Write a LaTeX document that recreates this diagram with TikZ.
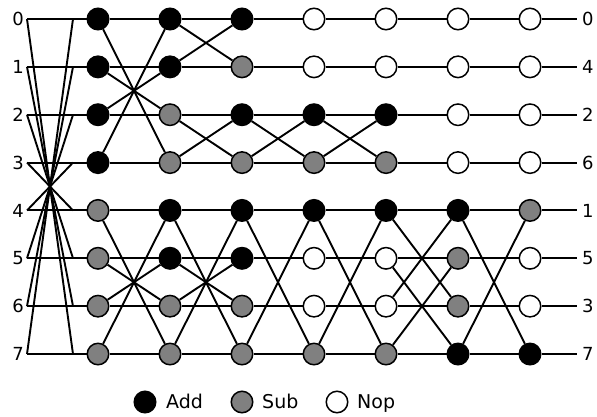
\documentclass[tikz,border=0pt]{standalone}
\usepackage{fontspec}
\setmainfont{DejaVu Sans}
\usetikzlibrary{backgrounds}
\definecolor{opgray}{RGB}{128,128,128}
\begin{document}
\begin{tikzpicture}[x=1pt,y=-1pt,
  wire/.style={line width=1.9pt},
  op/.style={circle,draw,line width=1.5pt,minimum size=21.5pt,inner sep=0pt},
  add/.style={op,fill=black},
  sub/.style={op,fill=opgray},
  nop/.style={op,fill=white},
  idx/.style={font=\fontsize{18}{18}\selectfont,inner sep=0pt},
  key/.style={font=\fontsize{19}{19}\selectfont,inner sep=0pt,anchor=base west}]
\useasboundingbox (0,0) rectangle (597,416);

% row ends and the points where the input reversal meets the rows
\foreach \r in {0,...,7} {
  \coordinate (L-\r) at (27,{19+47.86*\r});
  \coordinate (P-\r) at (73,{19+47.86*\r});
  \coordinate (R-\r) at (577,{19+47.86*\r});
  \node[idx,anchor=east] (in-\r) at (24,{19+47.86*\r}) {\r};
}
\foreach \v [count=\r from 0] in {0,4,2,6,1,5,3,7}
  \node[idx,anchor=west] (out-\r) at (582,{19+47.86*\r}) {\v};

% operation nodes, column by column
\foreach \c/\x/\types in {
  1/98/{add,add,add,add,sub,sub,sub,sub},
  2/170/{add,add,sub,sub,add,add,sub,sub},
  3/242/{add,sub,add,sub,add,add,sub,sub},
  4/314/{nop,nop,add,sub,add,nop,nop,sub},
  5/386/{nop,nop,add,sub,add,nop,nop,sub},
  6/458/{nop,nop,nop,nop,add,sub,sub,add},
  7/530/{nop,nop,nop,nop,sub,nop,nop,add}} {
  \foreach \t [count=\r from 0] in \types
    \node[\t] (n-\c-\r) at (\x,{19+47.86*\r}) {};
}

\begin{scope}[on background layer]
  % horizontal wires
  \foreach \r in {0,...,7}
    \draw[wire] (L-\r) -- (P-\r) -- (n-1-\r) -- (n-2-\r) -- (n-3-\r)
      -- (n-4-\r) -- (n-5-\r) -- (n-6-\r) -- (n-7-\r) -- (R-\r);
  % input order reversal
  \foreach \r in {0,...,7} {
    \pgfmathtruncatemacro\s{7-\r}
    \draw[wire] (L-\r) -- (P-\s);
  }
  % butterflies between columns
  \foreach \a/\b/\i/\j in {
    1/2/0/3, 1/2/1/2, 1/2/2/1, 1/2/3/0, 1/2/4/7, 1/2/5/6, 1/2/6/5, 1/2/7/4,
    2/3/0/1, 2/3/1/0, 2/3/2/3, 2/3/3/2, 2/3/4/7, 2/3/5/6, 2/3/6/5, 2/3/7/4,
    3/4/2/3, 3/4/3/2, 3/4/4/7, 3/4/7/4,
    4/5/2/3, 4/5/3/2, 4/5/4/7, 4/5/7/4,
    5/6/4/6, 5/6/5/7, 5/6/6/4, 5/6/7/5,
    6/7/4/7, 6/7/7/4}
    \draw[wire] (n-\a-\i) -- (n-\b-\j);
\end{scope}

% legend
\node[add] (k-add) at (145,402) {};
\node[key] (t-add) at (166,408) {Add};
\node[sub] (k-sub) at (242,402) {};
\node[key] (t-sub) at (262,408) {Sub};
\node[nop] (k-nop) at (337,402) {};
\node[key] (t-nop) at (357,408) {Nop};
\end{tikzpicture}
\end{document}
